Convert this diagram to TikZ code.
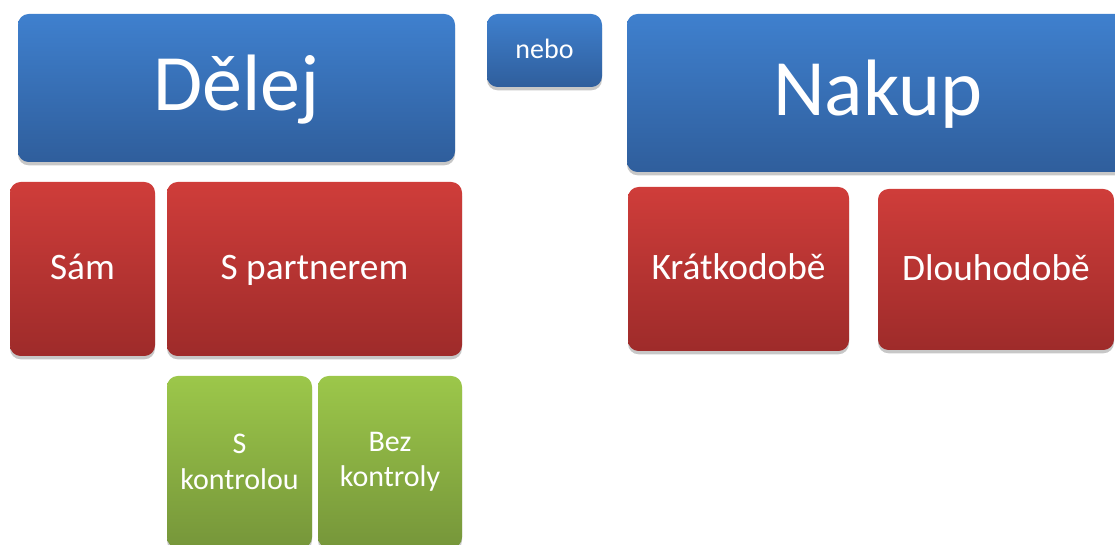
\documentclass[tikz,border=0pt]{standalone}
\usepackage{fontspec}
\setmainfont{Carlito}
\usepackage{tikz}
\usetikzlibrary{shadows}
\usepackage{xcolor}
\definecolor{blueTop}{HTML}{3F80CE}
\definecolor{blueBot}{HTML}{2F5E9C}
\definecolor{redTop}{HTML}{CF3D3A}
\definecolor{redBot}{HTML}{9E2B2A}
\definecolor{greenTop}{HTML}{9CC74A}
\definecolor{greenBot}{HTML}{76963A}

\begin{document}
\begin{tikzpicture}[x=0.75pt,y=-0.75pt,
    box/.style={rectangle,rounded corners=8pt,inner sep=0pt,text=white,align=center,
        drop shadow={shadow xshift=0pt,shadow yshift=-2.5pt,opacity=0.22,fill=black}},
    boxsize/.style 2 args={minimum width=#1*0.75pt,minimum height=#2*0.75pt},
    oneline/.style={text height=#1,text depth=0pt},
    bluebox/.style={box,top color=blueTop,bottom color=blueBot},
    redbox/.style={box,oneline=16.5pt,top color=redTop,bottom color=redBot,font=\fontsize{28}{33}\selectfont},
    greenbox/.style={box,top color=greenTop,bottom color=greenBot,font=\fontsize{22.5}{26.5}\selectfont}
    ]
% Rozdeleni: delej nebo nakup
\useasboundingbox (0,0) rectangle (1115,545);
\clip (0,0) rectangle (1115,545);
\node (delej) [bluebox,oneline=34pt,boxsize={437}{148},font=\fontsize{60}{64}\selectfont] at (236.5,88) {Dělej};
\node (nebo) [bluebox,oneline=12.75pt,boxsize={115}{73},font=\fontsize{21}{25}\selectfont] at (544.5,50.5) {nebo};
\node (nakup) [bluebox,oneline=34pt,boxsize={502}{158},font=\fontsize{60}{64}\selectfont] at (878,93) {Nakup};
\node (sam) [redbox,boxsize={145}{174}] at (82.5,269) {Sám};
\node (partner) [redbox,boxsize={295}{174}] at (314.5,269) {S partnerem};
\node (kratko) [redbox,boxsize={221}{164}] at (738.5,269) {Krátkodobě};
\node (dlouho) [redbox,boxsize={236}{161}] at (996,269.5) {Dlouhodobě};
\node (skontr) [greenbox,boxsize={145}{172}] at (239.5,462) {S\\kontrolou};
\node (bezkontr) [greenbox,boxsize={144}{172}] at (390,462) {Bez\\kontroly};
\end{tikzpicture}
\end{document}
